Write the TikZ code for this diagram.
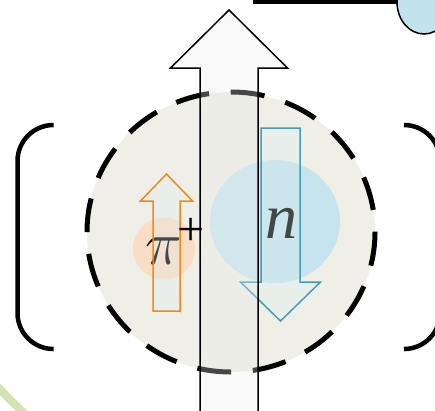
\RequirePackage{fix-cm}
\documentclass[tikz,border=0pt]{standalone}
\usepackage{fontspec}
\usetikzlibrary{shapes.geometric}
\newfontfamily\lserif{Liberation Serif}
\definecolor{shellfill}{HTML}{EFEFE7}
\definecolor{pionglow}{HTML}{FADDC5}
\definecolor{neutronglow}{HTML}{C6E4EE}
\definecolor{pionline}{HTML}{F08A14}
\definecolor{neutronline}{HTML}{449FB2}
\definecolor{spinfill}{HTML}{DBECEE}
\definecolor{bigspin}{HTML}{EBEBEB}
\definecolor{ringgreen}{HTML}{D4E2B4}
\definecolor{partnerblue}{HTML}{C3E3EC}
\begin{document}
\begin{tikzpicture}[x=1pt,y=-1pt,
  smallspin/.style={line width=1.5pt, fill=spinfill, fill opacity=0.3, line join=miter},
  bigarrow/.style={line width=1.5pt, draw=black, fill=bigspin, fill opacity=0.3, line join=miter},
  shell/.style={line width=5pt, dash pattern=on 34pt off 21.75pt},
  bracket/.style={line width=4.5pt, rounded corners=36pt},
  label/.style={inner sep=0pt, outer sep=0pt, text=black}]
\useasboundingbox (0,0) rectangle (435,410);
\clip (0,0) rectangle (435,410);

% neighbouring ring, lower left
\draw[ringgreen, line width=8pt] (310,100) circle[radius=424];

% nucleon body
\fill[shellfill] (231,232) ellipse[x radius=144, y radius=140];

% constituent clouds
\fill[pionglow] (164,248.5) circle[radius=31];
\fill[neutronglow] (275,221.5) ellipse[x radius=65, y radius=61.5];

% constituent labels
\node[label, font=\fontsize{62}{62}\selectfont] (pi) at (164,251) {$\pi$};
\node[label, font=\lserif\itshape\fontsize{64}{64}\selectfont] (nlabel) at (281,223) {n};

% spin of the pion (up) and of the neutron (down)
\draw[smallspin, draw=pionline]
  (153,311) -- (153,201) -- (140.5,201) -- (166.5,174) -- (192.5,201) -- (180,201) -- (180,311) -- cycle;
\draw[smallspin, draw=neutronline]
  (261,128) -- (261,282) -- (240.5,282) -- (280.5,321) -- (320.5,282) -- (300,282) -- (300,128) -- cycle;

% dashed nucleon boundary
\draw[shell] (231,232) ellipse[x radius=144, y radius=140];

% total spin of the nucleon
\draw[bigarrow]
  (200,425) -- (200,68) -- (170.5,68) -- (229,10) -- (287.5,68) -- (258,68) -- (258,425);

% charge of the pion
\node[label, font=\lserif\fontsize{48}{48}\selectfont] (piplus) at (191,231.5) {+};

% brackets around the state
\draw[bracket] (53,125) -- (17.5,125) -- (17.5,349) -- (53,349);
\draw[bracket] (404,125) -- (440,125) -- (440,349) -- (404,349);

% link to the partner nucleon, top right
\coordinate (linkstart) at (253,1.3);
\draw[line width=6pt] (linkstart) -- (410,1.3);
\node[ellipse, draw=black, line width=1.5pt, fill=partnerblue, inner sep=0pt,
      minimum width=54pt, minimum height=64pt] (partner) at (424,2) {};
\end{tikzpicture}
\end{document}
